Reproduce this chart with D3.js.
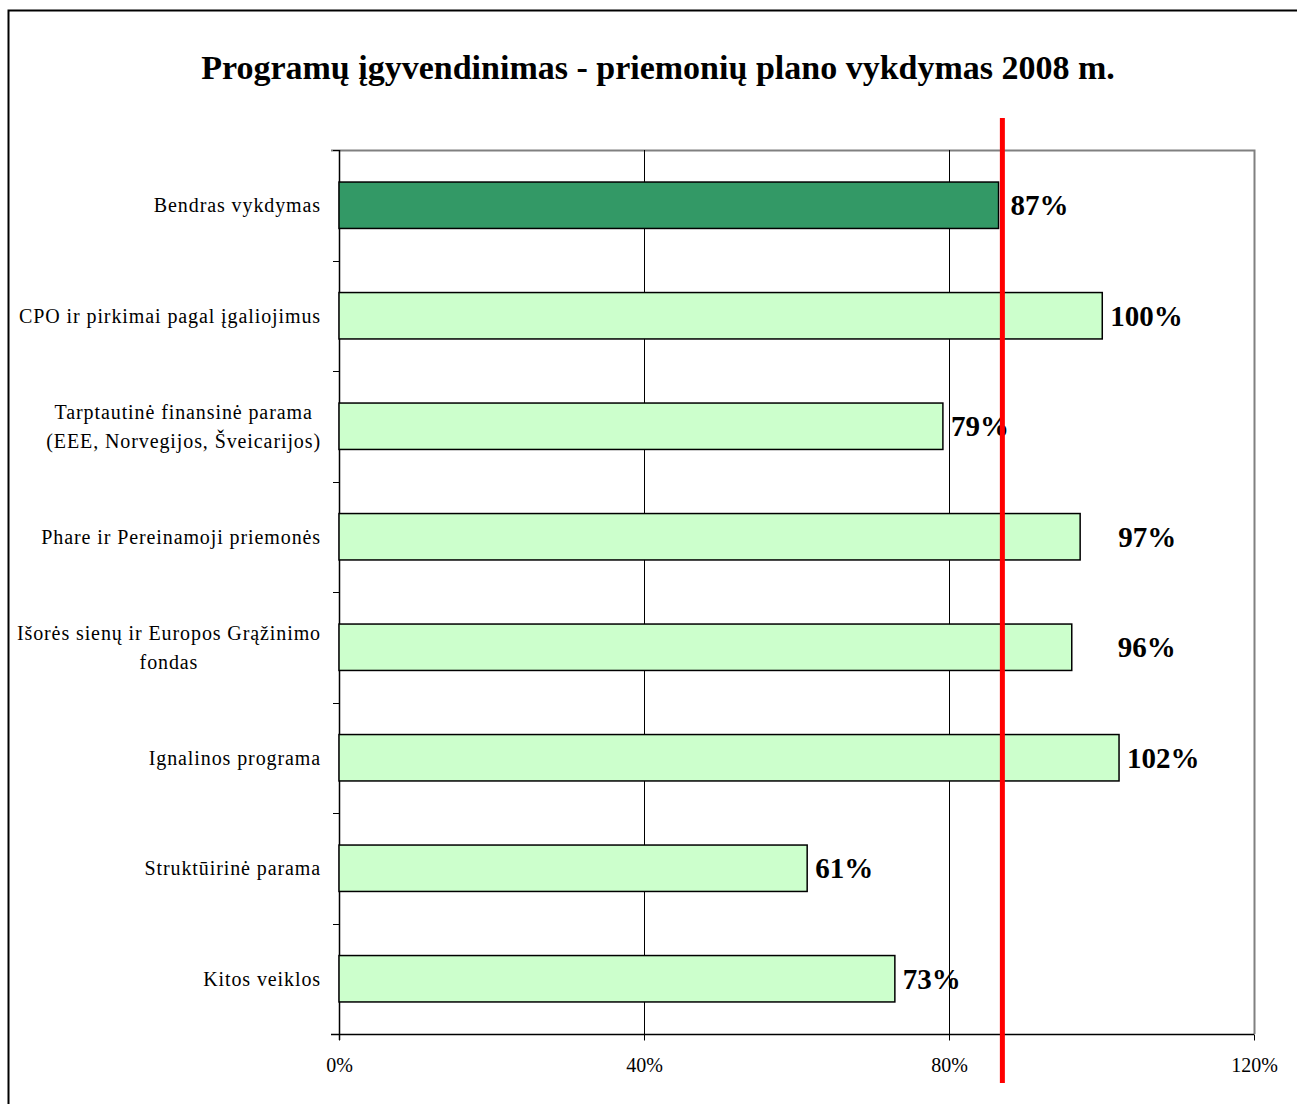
<!DOCTYPE html>
<html>
<head>
<meta charset="utf-8">
<title>Programų įgyvendinimas</title>
<script src="https://cdnjs.cloudflare.com/ajax/libs/d3/7.8.5/d3.min.js"></script>
<style>
 body { margin: 0; background: white; }
 text { font-family: "Liberation Serif", "Times New Roman", serif; }
 .title { font-weight: bold; font-size: 34px; }
 .cat { font-size: 20px; letter-spacing: 0.9px; }
 .value { font-weight: bold; font-size: 29px; }
</style>
</head>
<body>
<svg id="viz" width="1297" height="1104"></svg>
<script>

// data
var categories = [
  "Bendras vykdymas",
  "CPO ir pirkimai pagal įgaliojimus",
  "Tarptautinė finansinė parama\n(EEE, Norvegijos, Šveicarijos)",
  "Phare ir Pereinamoji priemonės",
  "Išorės sienų ir Europos Grąžinimo\nfondas",
  "Ignalinos programa",
  "Struktūirinė parama",
  "Kitos veiklos"
];
var values = [86.5, 100.1, 79.2, 97.2, 96.1, 102.3, 61.4, 72.9];
var valueLabels = ["87%", "100%", "79%", "97%", "96%", "102%", "61%", "73%"];
var xTicks = [0, 40, 80, 120];
var targetLine = 87;

draw();

function draw() {

  var svg = d3.select("#viz");

  var pLeft = 339, pRight = 1254, pTop = 150, pBottom = 1034;

  var x = d3.scaleLinear().domain([0, 120]).range([pLeft, pRight]);
  var y = d3.scaleBand().domain(categories).range([pTop, pBottom]).paddingInner(0.58).paddingOuter(0.29);

  // outer chart border (cut off on right and bottom)
  svg.append("rect")
    .attr("x", 8.5).attr("y", 10.5)
    .attr("width", 1400).attr("height", 1200)
    .attr("fill", "none").attr("stroke", "black").attr("stroke-width", 2);

  svg.append("text")
    .attr("class", "title")
    .attr("x", 658).attr("y", 79)
    .attr("text-anchor", "middle")
    .text("Programų įgyvendinimas - priemonių plano vykdymas 2008 m.");

  // plot area border (top and right, gray)
  svg.append("path")
    .attr("d", "M" + (pLeft - 8) + "," + (pTop + 0.5) + "H" + (pRight + 0.5) + "V" + pBottom)
    .attr("fill", "none").attr("stroke", "#808080").attr("stroke-width", 2);

  // vertical gridlines
  svg.selectAll(".grid")
    .data(xTicks.slice(1, -1))
    .enter().append("line")
    .attr("class", "grid")
    .attr("x1", function(d) { return x(d) + 0.5; })
    .attr("x2", function(d) { return x(d) + 0.5; })
    .attr("y1", pTop).attr("y2", pBottom)
    .attr("stroke", "black").attr("stroke-width", 1);

  // x axis
  var xAxis = svg.append("g")
    .attr("transform", "translate(0," + (pBottom + 0.5) + ")")
    .call(d3.axisBottom(x).tickValues(xTicks).tickSize(6).tickPadding(17)
      .tickFormat(function(d) { return d + "%"; }));
  xAxis.select(".domain").attr("stroke", "black").attr("stroke-width", 1.5).attr("d", "M" + (pLeft - 8) + ",0H" + pRight);
  xAxis.selectAll(".tick line").attr("stroke", "black");
  xAxis.selectAll(".tick text").attr("fill", "black")
    .style("font-family", "'Liberation Serif', serif").style("font-size", "20px");

  // y axis ticks at category boundaries
  var bounds = d3.range(categories.length + 1).map(function(i) {
    return pTop + i * (pBottom - pTop) / categories.length;
  });
  svg.selectAll(".ytick")
    .data(bounds)
    .enter().append("line")
    .attr("x1", pLeft - 6).attr("x2", pLeft)
    .attr("y1", function(d) { return Math.round(d) + 0.5; })
    .attr("y2", function(d) { return Math.round(d) + 0.5; })
    .attr("stroke", "black");
  svg.append("line")
    .attr("x1", pLeft + 0.5).attr("x2", pLeft + 0.5)
    .attr("y1", pTop).attr("y2", pBottom + 6)
    .attr("stroke", "black").attr("stroke-width", 1.5);

  // bars
  svg.selectAll(".bar")
    .data(values)
    .enter().append("rect")
    .attr("class", "bar")
    .attr("x", x(0))
    .attr("y", function(d, i) { return y(categories[i]); })
    .attr("width", function(d) { return x(d) - x(0); })
    .attr("height", y.bandwidth())
    .attr("fill", function(d, i) { return i === 0 ? "#339966" : "#CCFFCC"; })
    .attr("stroke", "black").attr("stroke-width", 1.5);

  // value labels (some were moved by hand in the original)
  var nudge = { 0: 4, 3: 30, 4: 38 };
  svg.selectAll(".value")
    .data(values)
    .enter().append("text")
    .attr("class", "value")
    .attr("x", function(d, i) { return x(d) + 8 + (nudge[i] || 0); })
    .attr("y", function(d, i) { return y(categories[i]) + y.bandwidth() / 2; })
    .attr("dy", "0.35em")
    .text(function(d, i) { return valueLabels[i]; });

  // category labels: block right aligned, lines centered inside it
  svg.selectAll(".cat")
    .data(categories)
    .enter().append("text")
    .attr("class", "cat")
    .attr("text-anchor", "middle")
    .each(function(d) {
      var lines = d.split("\n");
      var t = d3.select(this);
      var cy = y(d) + y.bandwidth() / 2;
      var lh = 29;
      lines.forEach(function(l, j) {
        t.append("tspan")
          .attr("x", 0)
          .attr("y", cy + (j - (lines.length - 1) / 2) * lh)
          .attr("dy", "0.35em")
          .text(l);
      });
      var w = this.getBBox().width;
      t.selectAll("tspan").attr("x", 321 - w / 2);
    });

  // target line
  svg.append("line")
    .attr("x1", x(targetLine)).attr("x2", x(targetLine))
    .attr("y1", 118).attr("y2", 1083)
    .attr("stroke", "#FF0000").attr("stroke-width", 5);
}

</script>
</body>
</html>
